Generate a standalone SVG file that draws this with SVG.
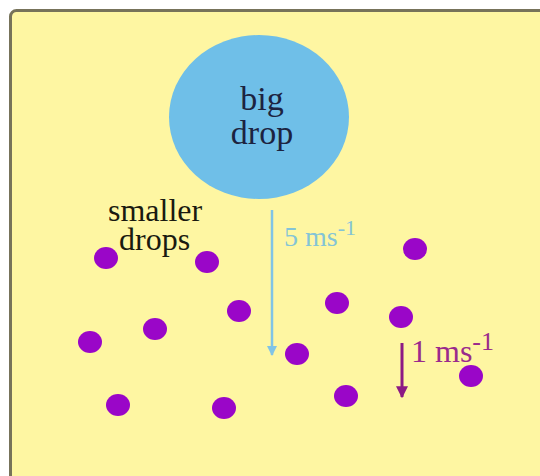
<svg xmlns="http://www.w3.org/2000/svg" width="540" height="476" viewBox="0 0 540 476">
<style>
.lbl{font-family:"Liberation Serif","Times New Roman",serif}
.dot{fill:#9a06c8}
</style>
<defs>
<marker id="ahB" viewBox="0 0 10 10" refX="9" refY="5" markerWidth="4" markerHeight="4" orient="auto" markerUnits="strokeWidth"><path d="M0,0 L10,5 L0,10 z" fill="#80c4e6"/></marker>
<marker id="ahP" viewBox="0 0 10 10" refX="9" refY="5" markerWidth="4" markerHeight="4" orient="auto" markerUnits="strokeWidth"><path d="M0,0 L10,5 L0,10 z" fill="#8c1a84"/></marker>
</defs>
<rect width="540" height="476" fill="#ffffff"/>
<rect x="10.5" y="10.5" width="540" height="480" rx="6" fill="#fef6a2" stroke="#77735a" stroke-width="3"/>
<g id="big-drop">
<ellipse cx="259" cy="117" rx="90" ry="82" fill="#6fbfe8"/>
<text class="lbl" x="262" y="110" font-size="34" text-anchor="middle" fill="#1c2340">big</text>
<text class="lbl" x="262" y="144" font-size="34" text-anchor="middle" fill="#1c2340">drop</text>
</g>
<g id="smaller-drops-label">
<text class="lbl" x="108" y="221" font-size="32" fill="#1a1a10">smaller</text>
<text class="lbl" x="119" y="250" font-size="32" fill="#1a1a10">drops</text>
</g>
<g id="small-drops">
<ellipse class="dot" cx="106" cy="258" rx="12" ry="11"/>
<ellipse class="dot" cx="207" cy="262" rx="12" ry="11"/>
<ellipse class="dot" cx="415" cy="249" rx="12" ry="11"/>
<ellipse class="dot" cx="239" cy="311" rx="12" ry="11"/>
<ellipse class="dot" cx="337" cy="303" rx="12" ry="11"/>
<ellipse class="dot" cx="401" cy="317" rx="12" ry="11"/>
<ellipse class="dot" cx="90" cy="342" rx="12" ry="11"/>
<ellipse class="dot" cx="155" cy="329" rx="12" ry="11"/>
<ellipse class="dot" cx="297" cy="354" rx="12" ry="11"/>
<ellipse class="dot" cx="471" cy="376" rx="12" ry="11"/>
<ellipse class="dot" cx="118" cy="405" rx="12" ry="11"/>
<ellipse class="dot" cx="224" cy="408" rx="12" ry="11"/>
<ellipse class="dot" cx="346" cy="396" rx="12" ry="11"/>
</g>
<g id="connectors">
<line x1="272" y1="210" x2="272" y2="355" stroke="#80c4e6" stroke-width="2.5" marker-end="url(#ahB)"/>
<line x1="402" y1="343" x2="402" y2="397" stroke="#8c1a84" stroke-width="3" marker-end="url(#ahP)"/>
</g>
<g id="speed-labels">
<text class="lbl" x="284" y="246" font-size="28" fill="#84c4d6">5 ms<tspan font-size="22" dy="-11">-1</tspan></text>
<text class="lbl" x="411" y="362" font-size="32" fill="#9a2a8c">1 ms<tspan font-size="26" dy="-12">-1</tspan></text>
</g>
</svg>
